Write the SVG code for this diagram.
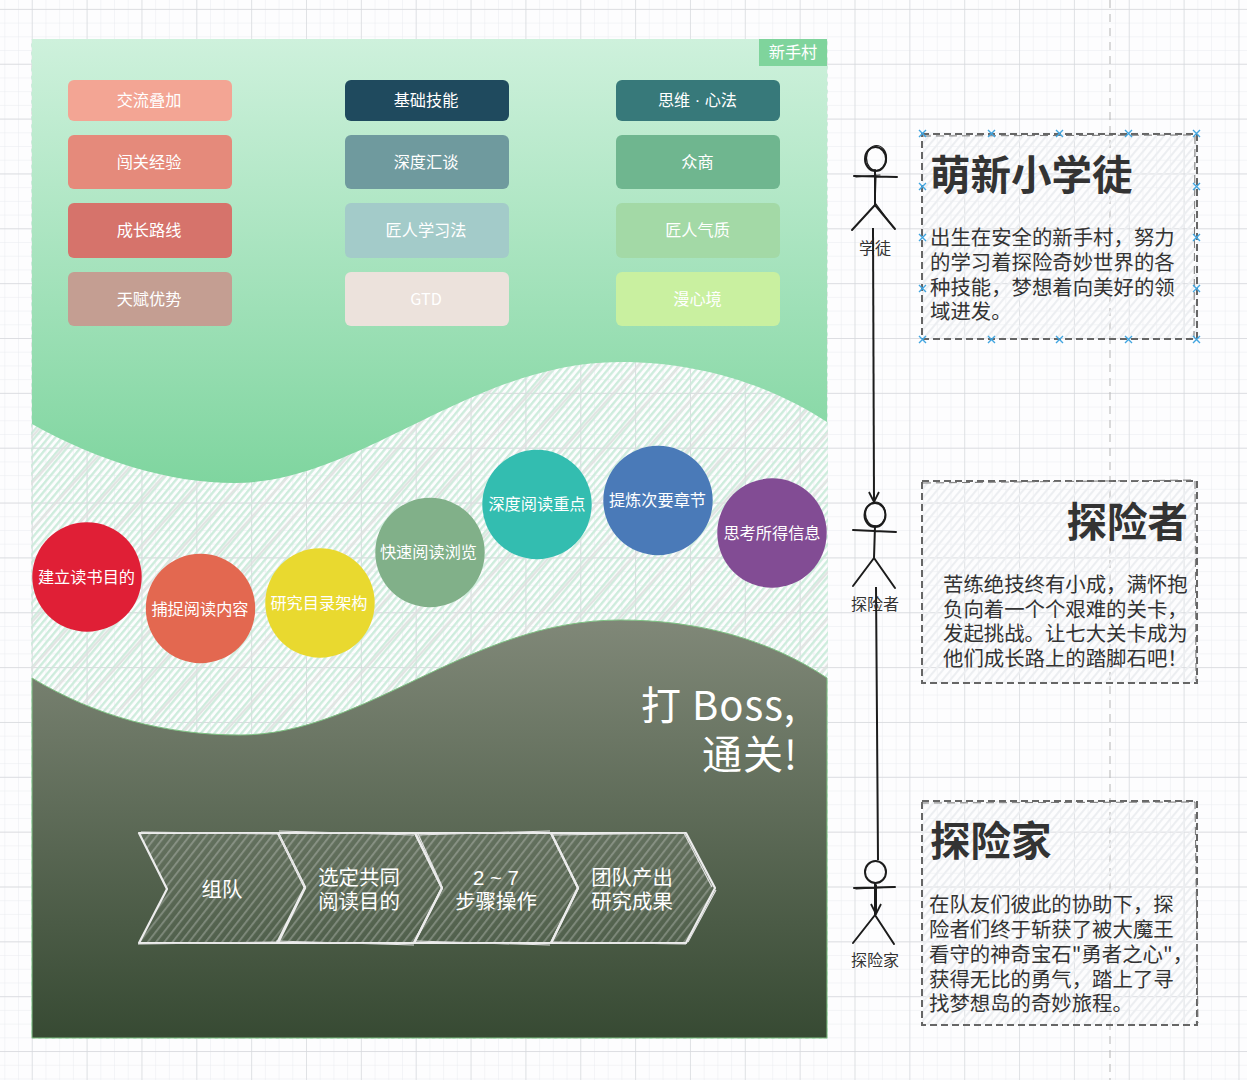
<svg xmlns="http://www.w3.org/2000/svg" width="1247" height="1080" viewBox="0 0 1247 1080">
<style>
text{font-family:"Noto Sans CJK SC","Liberation Sans",sans-serif}
.w{fill:#fff;text-anchor:middle;font-size:16.2px}
.c{fill:#fff;text-anchor:middle;font-size:20.4px}
.t{fill:#333;font-size:40.5px;font-weight:700}
.b{fill:#333;font-size:20.4px}
.l{fill:#333;font-size:16px;text-anchor:middle}
.a{fill:none;stroke:#1c1c1c;stroke-width:2;stroke-linecap:round;stroke-linejoin:round}
.a2{fill:none;stroke:#1c1c1c;stroke-width:1.2;stroke-linecap:round}
.d{fill:url(#bh);stroke:#666;stroke-width:2;stroke-dasharray:7 4}
.d2{fill:none;stroke:#777;stroke-width:1;stroke-dasharray:8 5}
.s{fill:url(#ch);stroke:#ececec;stroke-width:2.2;stroke-linejoin:round}
.s2{fill:none;stroke:#e2e2e2;stroke-width:1.2}
.x{fill:none;stroke:#41a5e0;stroke-width:1.4}
.n{font-family:"Liberation Sans",sans-serif}
</style>
<defs>
<pattern id="gmin" width="13.7125" height="13.7125" patternUnits="userSpaceOnUse" x="31.75" y="8.9"><path d="M0 0H13.7125M0 0V13.7125" fill="none" stroke="#e9ecef" stroke-width="1"/></pattern>
<pattern id="gmaj" width="54.85" height="54.85" patternUnits="userSpaceOnUse" x="31.75" y="8.9"><path d="M0 0H54.85M0 0V54.85" fill="none" stroke="#d6d8dc" stroke-width="1.3"/></pattern>
<pattern id="hg" width="5.2" height="5.2" patternUnits="userSpaceOnUse" patternTransform="rotate(40)"><line x1="1.2" y1="0" x2="1.2" y2="5.2" stroke="#cdecdc" stroke-width="2.3"/></pattern>
<pattern id="hg2" width="31" height="40" patternUnits="userSpaceOnUse" patternTransform="rotate(42)"><line x1="6" y1="0" x2="6" y2="40" stroke="#e2e4e3" stroke-width="2.4"/></pattern>
<pattern id="bh" width="6" height="6" patternUnits="userSpaceOnUse" patternTransform="rotate(40)"><line x1="1" y1="0" x2="1" y2="6" stroke="#eceef1" stroke-width="2.2"/></pattern>
<pattern id="ch" width="6.5" height="6.5" patternUnits="userSpaceOnUse" patternTransform="rotate(38)"><rect width="6.5" height="6.5" fill="#fff" fill-opacity=".05"/><line x1="1" y1="0" x2="1" y2="6.5" stroke="#e8e8e8" stroke-opacity=".28" stroke-width="2"/></pattern>
<linearGradient id="gt" x1="0" y1="39" x2="0" y2="483" gradientUnits="userSpaceOnUse"><stop offset="0" stop-color="#cef1dc"/><stop offset="1" stop-color="#7fd59f"/></linearGradient>
<linearGradient id="gb" x1="0" y1="620" x2="0" y2="1038" gradientUnits="userSpaceOnUse"><stop offset="0" stop-color="#808878"/><stop offset="1" stop-color="#374a33"/></linearGradient>
<marker id="arr" viewBox="0 0 12 12" refX="11" refY="6" markerWidth="12" markerHeight="12" markerUnits="userSpaceOnUse" orient="auto"><path d="M1 1L11 6L1 11" fill="none" stroke="#1c1c1c" stroke-width="1.8"/></marker>
</defs>
<rect width="1247" height="1080" fill="#fdfdfe"/>
<rect width="1247" height="1080" fill="url(#gmin)"/>
<rect width="1247" height="1080" fill="url(#gmaj)"/>
<line x1="1110" y1="0" x2="1110" y2="1080" stroke="#b5b5b5" stroke-width="1" stroke-dasharray="8 6"/>

<g id="stage">
<rect x="31" y="39" width="797" height="1000" fill="url(#hg)"/>
<rect x="31" y="39" width="797" height="1000" fill="url(#hg2)"/>
<rect x="31" y="39" width="797" height="1000" fill="url(#gmaj)" opacity=".6"/>
<path id="village" d="M32 39H827V422C770 385 700 362 620 362C470 362 360 483 235 483C170 483 100 462 32 424Z" fill="url(#gt)"/>
<path id="boss" d="M32 678C95 716 165 735 240 735C365 735 470 620 620 620C700 620 770 640 827 678V1038H32Z" fill="url(#gb)" stroke="#7fc283" stroke-width="1"/>
</g>

<g id="tag"><rect x="759" y="39" width="68" height="27" fill="#7fd49c"/><text class="w" x="793" y="58">新手村</text></g>

<g id="n1"><rect x="68" y="80" width="164" height="41" rx="6" fill="#f3a594"/><text class="w" x="149" y="106">交流叠加</text></g>
<g id="n2"><rect x="68" y="135" width="164" height="54" rx="6" fill="#e58a7b"/><text class="w" x="149" y="167.500">闯关经验</text></g>
<g id="n3"><rect x="68" y="203" width="164" height="55" rx="6" fill="#d6736b"/><text class="w" x="149" y="236">成长路线</text></g>
<g id="n4"><rect x="68" y="272" width="164" height="54" rx="6" fill="#c49e92"/><text class="w" x="149" y="304.500">天赋优势</text></g>
<g id="n5"><rect x="345" y="80" width="164" height="41" rx="6" fill="#1f4a5e"/><text class="w" x="426" y="106">基础技能</text></g>
<g id="n6"><rect x="345" y="135" width="164" height="54" rx="6" fill="#6f9a9e"/><text class="w" x="426" y="167.500">深度汇谈</text></g>
<g id="n7"><rect x="345" y="203" width="164" height="55" rx="6" fill="#a3cbc9"/><text class="w" x="426" y="236">匠人学习法</text></g>
<g id="n8"><rect x="345" y="272" width="164" height="54" rx="6" fill="#ece2dc"/><text class="w" x="426" y="304.500">GTD</text></g>
<g id="n9"><rect x="616" y="80" width="164" height="41" rx="6" fill="#37797a"/><text class="w" x="697.500" y="106">思维<tspan class="n"> · </tspan>心法</text></g>
<g id="n10"><rect x="616" y="135" width="164" height="54" rx="6" fill="#6fb68f"/><text class="w" x="697.500" y="167.500">众商</text></g>
<g id="n11"><rect x="616" y="203" width="164" height="55" rx="6" fill="#a3d9a6"/><text class="w" x="697.500" y="236">匠人气质</text></g>
<g id="n12"><rect x="616" y="272" width="164" height="54" rx="6" fill="#c9f0a0"/><text class="w" x="697.500" y="304.500">漫心境</text></g>

<g id="c1"><circle cx="87" cy="577" r="54.700" fill="#e01f36"/><text class="w" x="86.500" y="583">建立读书目的</text></g>
<g id="c2"><circle cx="200.500" cy="608.500" r="54.700" fill="#e36850"/><text class="w" x="200" y="614.500">捕捉阅读内容</text></g>
<g id="c3"><circle cx="320" cy="603" r="54.700" fill="#e9d92f"/><text class="w" x="319" y="609">研究目录架构</text></g>
<g id="c4"><circle cx="430" cy="552.500" r="54.700" fill="#81b089"/><text class="w" x="428.500" y="558">快速阅读浏览</text></g>
<g id="c5"><circle cx="537" cy="504.500" r="54.700" fill="#33bdb0"/><text class="w" x="537" y="510">深度阅读重点</text></g>
<g id="c6"><circle cx="658" cy="500.500" r="54.700" fill="#4a7ab8"/><text class="w" x="657.500" y="506">提炼次要章节</text></g>
<g id="c7"><circle cx="772" cy="533" r="54.700" fill="#824c94"/><text class="w" x="772" y="539">思考所得信息</text></g>

<g id="boss-title"><text fill="#fff" font-size="40" text-anchor="end" letter-spacing="1"><tspan x="796" y="720">打 Boss,</tspan><tspan x="798" y="769">通关!</tspan></text></g>

<g id="s1"><path class="s" d="M139 833H278L305 888L278 943H139L167 889Z"/><path class="s2" d="M141 832L279 834M138 944L277 942"/><text class="c" x="222" y="897">组队</text></g>
<g id="s2"><path class="s" d="M278 833H415L442 888L414 943H277L305 887Z"/><path class="s2" d="M279 831L414 835M279 835L304 886M276 941L414 945"/><text class="c"><tspan x="359" y="884.500">选定共同</tspan><tspan x="359" y="909">阅读目的</tspan></text></g>
<g id="s3"><path class="s" d="M415 833H551L578 888L551 943H414L442 888Z"/><path class="s2" d="M416 835L550 831M418 834L441 884M416 941L550 945"/><text class="c"><tspan class="n" x="496" y="884.500">2 ~ 7</tspan><tspan x="496" y="909">步骤操作</tspan></text></g>
<g id="s4"><path class="s" d="M551 833H686L715 888L686 943H551L578 888Z"/><path class="s2" d="M552 835L684 833L712 887M716 890L688 942M553 942L686 944"/><text class="c"><tspan x="632" y="884.500">团队产出</tspan><tspan x="632" y="909">研究成果</tspan></text></g>

<g id="actor1"><ellipse class="a" cx="875.500" cy="159" rx="10.500" ry="12"/><ellipse class="a2" cx="876.500" cy="158" rx="10" ry="12.500"/><path class="a" d="M854 176L897 177M875 170L875 205M875 205L852 230M875 205L895 229"/><path class="a2" d="M856 177L880 175M876 175L875 206M876 204L893 227"/><text class="l" x="875" y="254">学徒</text></g>
<g id="actor2"><ellipse class="a" cx="875" cy="515" rx="10.500" ry="12"/><ellipse class="a2" cx="875.500" cy="514" rx="10" ry="12"/><path class="a" d="M853 530L896 532M875 526L874 558M874 558L853 586M874 558L895 588"/><text class="l" x="875" y="610">探险者</text></g>
<g id="actor3"><ellipse class="a" cx="875.500" cy="872" rx="10.500" ry="11"/><path class="a" d="M854 888L895 887M875 883L875 915M875 915L853 943M875 915L894 944"/><path class="a2" d="M856 889L893 887M876 884L876 914"/><text class="l" x="875" y="966">探险家</text></g>

<g id="connectors" fill="none" stroke="#1c1c1c" stroke-width="2">
<path d="M873 228L874 502" marker-end="url(#arr)"/>
<path d="M876 587L877 722L878 860"/>
<path d="M876 885L876 914" marker-end="url(#arr)"/>
</g>

<g id="card1"><path class="d" d="M922 134H1197V339H922Z"/><path class="d2" d="M923 136L1195 135L1194 337"/>
<text class="t" x="930" y="190">萌新小学徒</text>
<text class="b"><tspan x="930" y="245">出生在安全的新手村，努力</tspan><tspan x="930" y="270">的学习着探险奇妙世界的各</tspan><tspan x="930" y="294.500">种技能，梦想着向美好的领</tspan><tspan x="930" y="319">域进发。</tspan></text>
<path class="x" d="M919 130l7 7m0-7l-7 7M988 130l7 7m0-7l-7 7M1056 130l7 7m0-7l-7 7M1125 130l7 7m0-7l-7 7M1193 130l7 7m0-7l-7 7M919 183l7 7m0-7l-7 7M1193 183l7 7m0-7l-7 7M919 234l7 7m0-7l-7 7M1193 234l7 7m0-7l-7 7M919 285l7 7m0-7l-7 7M1193 285l7 7m0-7l-7 7M919 336l7 7m0-7l-7 7M988 336l7 7m0-7l-7 7M1056 336l7 7m0-7l-7 7M1125 336l7 7m0-7l-7 7M1193 336l7 7m0-7l-7 7"/></g>
<g id="card2"><path class="d" d="M922 481H1197V683H922Z"/><path class="d2" d="M923 483L1195 480L1196 681"/>
<text class="t" x="1188" y="537" text-anchor="end">探险者</text>
<text class="b"><tspan x="943" y="592">苦练绝技终有小成，满怀抱</tspan><tspan x="943" y="616.500">负向着一个个艰难的关卡，</tspan><tspan x="943" y="641">发起挑战。让七大关卡成为</tspan><tspan x="943" y="665.500">他们成长路上的踏脚石吧！</tspan></text></g>
<g id="card3"><path class="d" d="M922 801H1197V1025H922Z"/><path class="d2" d="M921 803L1195 802L1198 1023"/>
<text class="t" x="930" y="856">探险家</text>
<text class="b"><tspan x="929" y="912">在队友们彼此的协助下，探</tspan><tspan x="929" y="937">险者们终于斩获了被大魔王</tspan><tspan x="929" y="961.500">看守的神奇宝石"勇者之心"，</tspan><tspan x="929" y="986.500">获得无比的勇气，踏上了寻</tspan><tspan x="929" y="1011">找梦想岛的奇妙旅程。</tspan></text></g>
</svg>
